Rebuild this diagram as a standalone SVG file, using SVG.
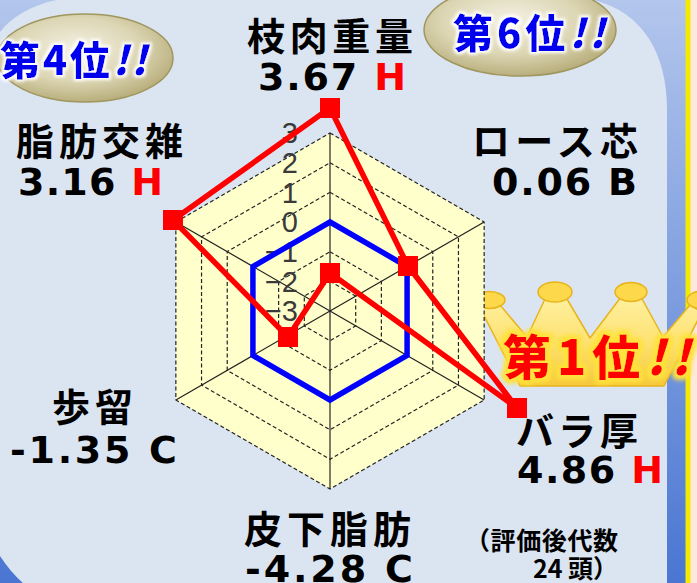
<svg xmlns="http://www.w3.org/2000/svg" width="697" height="583" viewBox="0 0 697 583">
<defs>
<linearGradient id="bgBlue" x1="0" y1="0" x2="0" y2="1">
<stop offset="0" stop-color="#b3c6ec"/>
<stop offset="1" stop-color="#4a76d2"/>
</linearGradient>
<radialGradient id="metal" cx="0.45" cy="0.4" r="0.65">
<stop offset="0" stop-color="#f4f1e4"/>
<stop offset="0.55" stop-color="#dcd6b4"/>
<stop offset="1" stop-color="#b2a772"/>
</radialGradient>
<linearGradient id="gold" x1="0" y1="0" x2="0" y2="1">
<stop offset="0" stop-color="#fff0a0"/>
<stop offset="0.5" stop-color="#fde273"/>
<stop offset="1" stop-color="#f6c83a"/>
</linearGradient>
<filter id="glowW" x="-20%" y="-40%" width="140%" height="180%">
<feMorphology in="SourceAlpha" operator="dilate" radius="2" result="d"/>
<feGaussianBlur in="d" stdDeviation="1.8" result="b"/>
<feFlood flood-color="#ffffff"/>
<feComposite in2="b" operator="in" result="g"/>
<feMerge><feMergeNode in="g"/><feMergeNode in="SourceGraphic"/></feMerge>
</filter>
<filter id="glowY" x="-20%" y="-40%" width="140%" height="180%">
<feMorphology in="SourceAlpha" operator="dilate" radius="3" result="d"/>
<feGaussianBlur in="d" stdDeviation="2.5" result="b"/>
<feFlood flood-color="#ffe23c"/>
<feComposite in2="b" operator="in" result="g"/>
<feMerge><feMergeNode in="g"/><feMergeNode in="g"/><feMergeNode in="SourceGraphic"/></feMerge>
</filter>
<style>
.cat{font-family:"Noto Sans CJK JP","Noto Sans CJK SC",sans-serif;font-weight:700;font-size:38px;fill:#000}
.val{font-family:"DejaVu Sans","Noto Sans",sans-serif;font-weight:700;font-size:38px;fill:#000}
.red{fill:#ff0000}
.tick{font-family:"Liberation Sans",Arial,sans-serif;font-size:29px;fill:#3a3a3a;text-anchor:end}
.ring{fill:none;stroke:#222;stroke-width:1.2;stroke-dasharray:4 2.5}
.spoke{stroke:#222;stroke-width:1.2}
.badge{fill:url(#metal);stroke:#a0965e;stroke-width:1.5}
.btxt{font-family:"Noto Sans CJK JP","Noto Sans CJK SC",sans-serif;font-weight:900;fill:#0000ee}
.mk{fill:#ff0000}
.ball{fill:#fcd84a;stroke:#e8b41c;stroke-width:1.5}
</style>
</defs>

<!-- background -->
<rect x="0" y="0" width="697" height="583" fill="url(#bgBlue)"/>
<rect x="690" y="0" width="7" height="583" fill="#fde8de"/>
<rect x="685.5" y="0" width="5" height="583" fill="#f2ea00"/>
<path d="M -5,40 C 8,14 45,-3 90,-4 L 560,-4 C 630,-4 667,40 667,110 L 667,600 L 50,600 C 25,590 8,570 -5,548 Z" fill="#dbe5f2"/>

<!-- badges -->
<g id="badge4">
<ellipse class="badge" cx="85" cy="58" rx="88" ry="44"/>
<text class="btxt" x="0" y="75" font-size="40" textLength="147" filter="url(#glowW)">第4位<tspan font-style="italic">!!</tspan></text>
</g>
<g id="badge6">
<ellipse class="badge" cx="520" cy="30" rx="96" ry="46"/>
<text class="btxt" x="453" y="48" font-size="40" textLength="152" filter="url(#glowW)">第6位<tspan font-style="italic">!!</tspan></text>
</g>

<!-- crown -->
<g id="crown">
<path d="M 478,304 L 520,386 L 664,386 L 702,312 L 690,305 L 663,337 L 641,297 L 621,297 L 590,338 L 567,299 L 545,299 L 527,337 L 500,305 Z" fill="url(#gold)" stroke="#e8b41c" stroke-width="1.5" stroke-linejoin="round"/>
<ellipse class="ball" cx="489" cy="300" rx="16" ry="8.5"/>
<ellipse class="ball" cx="555" cy="292" rx="17" ry="10"/>
<ellipse class="ball" cx="631" cy="292" rx="16" ry="9.5"/>
<ellipse class="ball" cx="703" cy="300" rx="16" ry="9"/>
<text x="503" y="375" font-family="Noto Sans CJK JP, Noto Sans CJK SC, sans-serif" font-weight="900" font-size="48" fill="#ff0000" textLength="187" filter="url(#glowY)">第1位<tspan font-style="italic">!!</tspan></text>
</g>

<!-- radar chart -->
<g id="chart">
<polygon points="330,133 484.15,222 484.15,400 330,489 175.85,400 175.85,222" fill="#ffffcc"/>
<g id="rings">
<polygon class="ring" points="330,162.67 458.46,236.83 458.46,385.17 330,459.33 201.54,385.17 201.54,236.83"/>
<polygon class="ring" points="330,192.33 432.77,251.67 432.77,370.33 330,429.67 227.23,370.33 227.23,251.67"/>
<polygon class="ring" points="330,251.67 381.38,281.33 381.38,340.67 330,370.33 278.62,340.67 278.62,281.33"/>
<polygon class="ring" points="330,281.33 355.69,296.17 355.69,325.83 330,340.67 304.31,325.83 304.31,296.17"/>
<polygon class="ring" stroke="#444" points="330,133 484.15,222 484.15,400 330,489 175.85,400 175.85,222"/>
</g>
<g id="spokes">
<line class="spoke" x1="330" y1="311" x2="330" y2="133"/>
<line class="spoke" x1="330" y1="311" x2="484.15" y2="222"/>
<line class="spoke" x1="330" y1="311" x2="484.15" y2="400"/>
<line class="spoke" x1="330" y1="311" x2="330" y2="489"/>
<line class="spoke" x1="330" y1="311" x2="175.85" y2="400"/>
<line class="spoke" x1="330" y1="311" x2="175.85" y2="222"/>
</g>
<g id="ticks">
<text class="tick" x="298" y="143">3</text>
<text class="tick" x="298" y="173">2</text>
<text class="tick" x="298" y="203">1</text>
<text class="tick" x="298" y="232">0</text>
<text class="tick" x="298" y="262">−1</text>
<text class="tick" x="298" y="292">−2</text>
<text class="tick" x="298" y="321">−3</text>
</g>
<polygon id="avg" points="330,222 407.08,266.5 407.08,355.5 330,400 252.92,355.5 252.92,266.5" fill="none" stroke="#0000ff" stroke-width="5.5" stroke-linejoin="miter"/>
<g id="data">
<polygon points="330,108 408,266 517,408 330,273 288,337 173,220" fill="none" stroke="#ff0000" stroke-width="5.5" stroke-linejoin="round"/>
<rect class="mk" x="320" y="98" width="20" height="20"/>
<rect class="mk" x="398" y="256" width="20" height="20"/>
<rect class="mk" x="507" y="398" width="20" height="20"/>
<rect class="mk" x="320" y="263" width="20" height="20"/>
<rect class="mk" x="278" y="327" width="20" height="20"/>
<rect class="mk" x="163" y="210" width="20" height="20"/>
</g>
</g>

<!-- labels -->
<g id="label-edaniku">
<text class="cat" x="247" y="49.5" textLength="166">枝肉重量</text>
<text class="val" x="258" y="90" textLength="148">3.67 <tspan class="red">H</tspan></text>
</g>
<g id="label-shibou">
<text class="cat" x="16" y="154.5" textLength="167">脂肪交雑</text>
<text class="val" x="18" y="195" textLength="145">3.16 <tspan class="red">H</tspan></text>
</g>
<g id="label-rosu">
<text class="cat" x="472" y="154.5" textLength="166">ロース芯</text>
<text class="val" x="492" y="195" textLength="145">0.06 B</text>
</g>
<g id="label-budomari">
<text class="cat" x="52" y="420.5" textLength="81">歩留</text>
<text class="val" x="10" y="463" textLength="167">-1.35 C</text>
</g>
<g id="label-hika">
<text class="cat" x="244" y="542.5" textLength="167">皮下脂肪</text>
<text class="val" x="245" y="582" textLength="168">-4.28 C</text>
</g>
<g id="label-bara">
<text class="cat" x="516" y="444.5" textLength="122">バラ厚</text>
<text class="val" x="517" y="483" textLength="146">4.86 <tspan class="red">H</tspan></text>
</g>
<g id="note">
<text x="618" y="550" text-anchor="end" font-family="Noto Sans CJK JP, Noto Sans CJK SC, sans-serif" font-weight="700" font-size="25" textLength="153">（評価後代数</text>
<text x="618" y="578" text-anchor="end" font-family="Noto Sans CJK JP, Noto Sans CJK SC, sans-serif" font-weight="700" font-size="25" textLength="85">24 頭）</text>
</g>
</svg>
